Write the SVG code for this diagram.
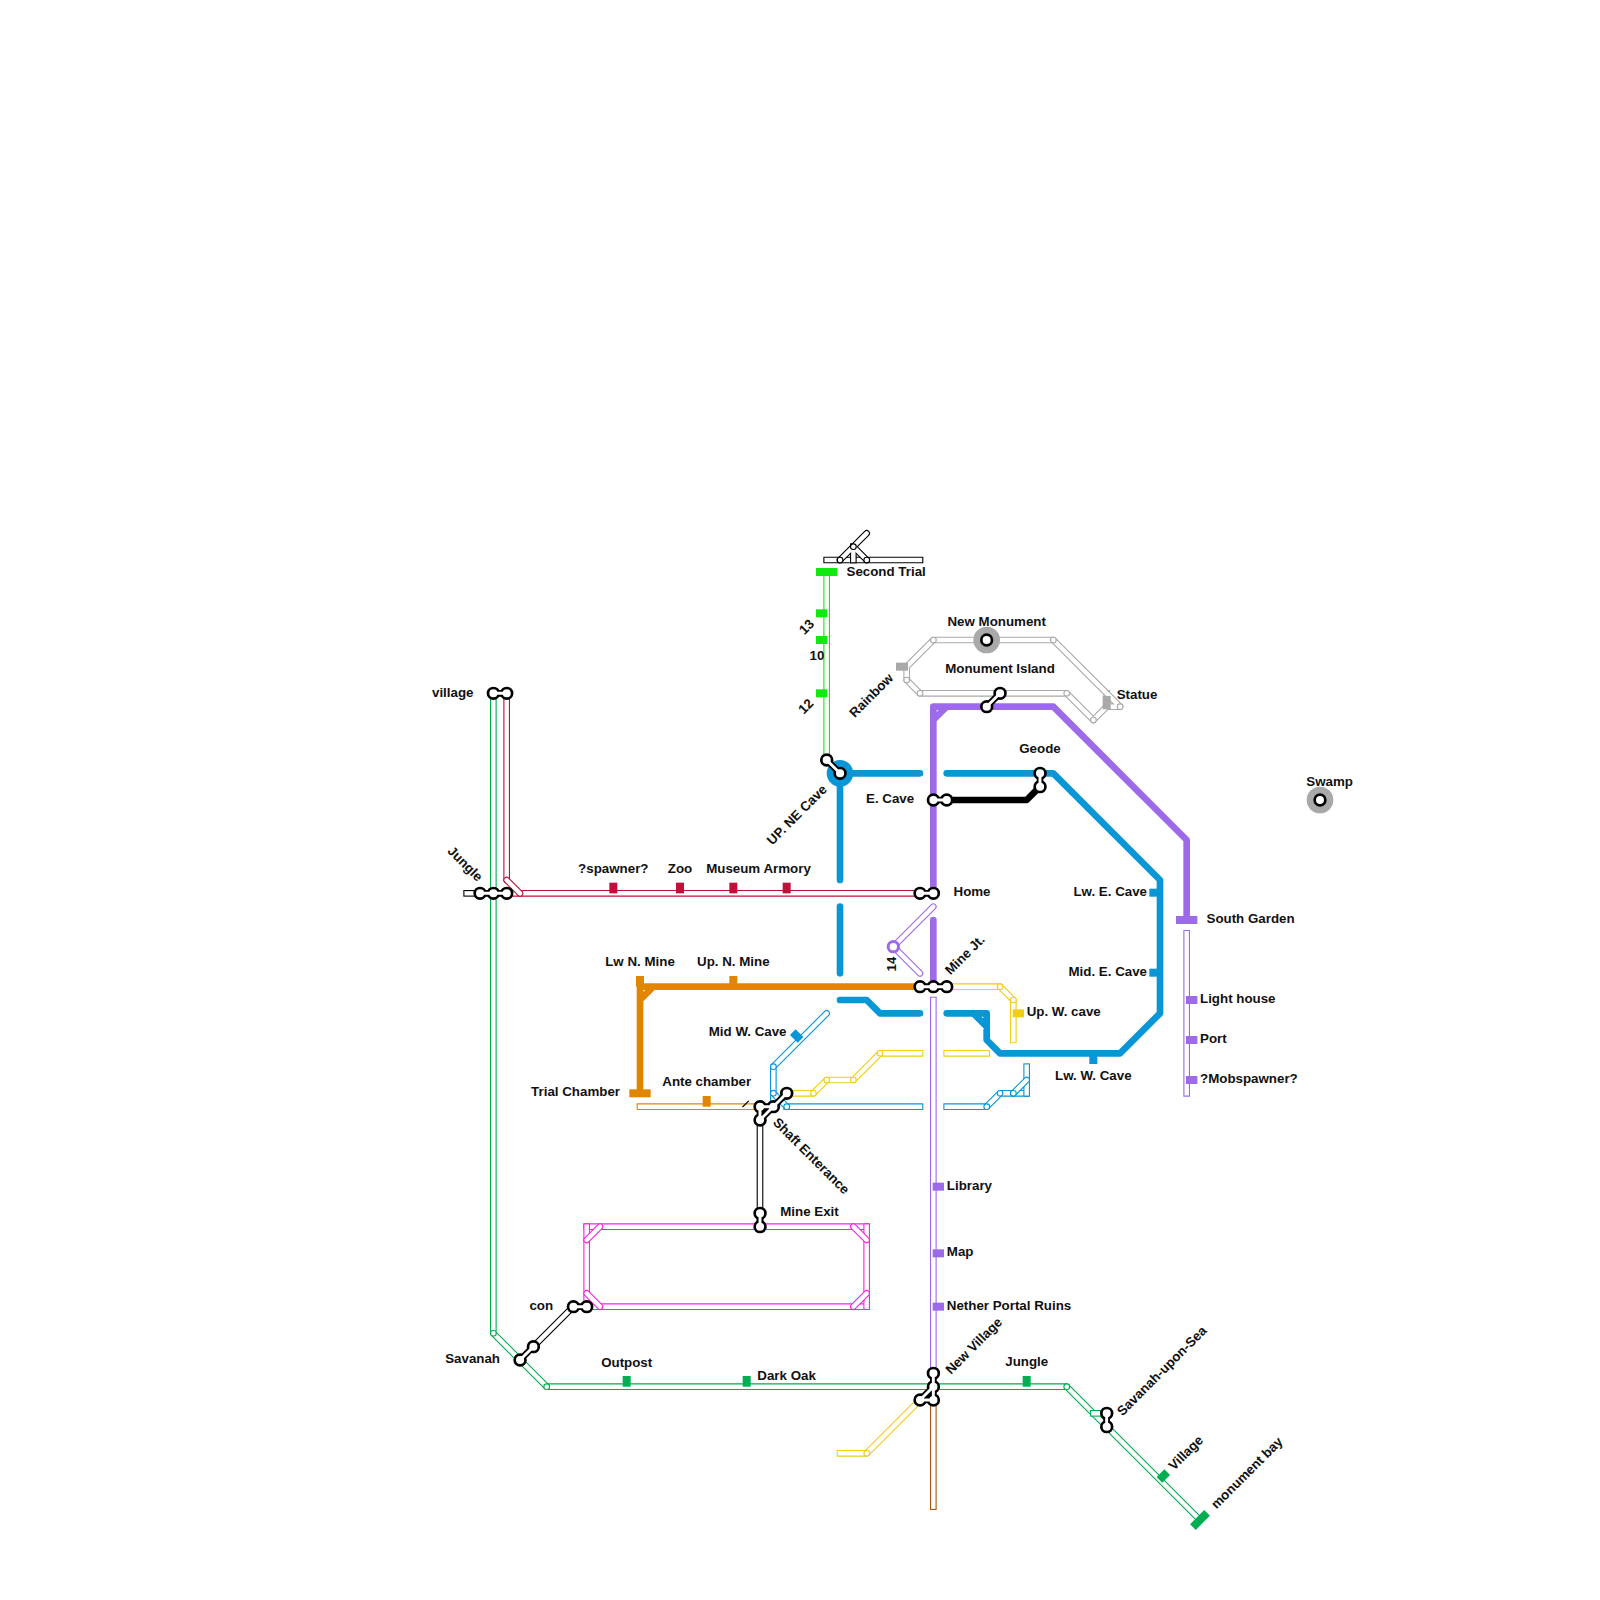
<svg xmlns="http://www.w3.org/2000/svg" width="1600" height="1600" viewBox="0 0 1600 1600">
<style>
text{font:bold 13.33px "Liberation Sans",Arial,sans-serif;fill:#111}
.m{text-anchor:middle}.e{text-anchor:end}
.u{transform:scale(13.33333)}
path{fill:none;stroke-linecap:round;stroke-linejoin:round}
.o{stroke-width:.5}
.w{stroke:#fff;stroke-width:.3333}
.s{stroke-linecap:square}
.t{stroke-width:.5}
.ko{stroke:#000;stroke-width:1}
.kn{stroke:#000;stroke-width:.5}
.kw{stroke:#fff;stroke-width:.6}
.kx{stroke:#fff;stroke-width:.22}
</style>
<defs>
<g id="h2"><path class="ko" d="M0 0h.01M1 0h.01"/><path class="kn" d="M0 0h1"/><path class="kw" d="M0 0h.01M1 0h.01"/><path class="kx" d="M0 0h1"/></g>
<g id="h3"><path class="ko" d="M0 0h.01M1 0h.01M2 0h.01"/><path class="kn" d="M0 0h2"/><path class="kw" d="M0 0h.01M1 0h.01M2 0h.01"/><path class="kx" d="M0 0h2"/></g>
<g id="v2"><path class="ko" d="M0 0h.01M0 1h.01"/><path class="kn" d="M0 0v1"/><path class="kw" d="M0 0h.01M0 1h.01"/><path class="kx" d="M0 0v1"/></g>
<g id="du"><path class="ko" d="M0 0h.01M1 -1h.01"/><path class="kn" d="M0 0l1 -1"/><path class="kw" d="M0 0h.01M1 -1h.01"/><path class="kx" d="M0 0l1 -1"/></g>
<g id="dd"><path class="ko" d="M0 0h.01M1 1h.01"/><path class="kn" d="M0 0l1 1"/><path class="kw" d="M0 0h.01M1 1h.01"/><path class="kx" d="M0 0l1 1"/></g>
</defs>

<g id="connectors" class="u">
 <g id="line-black-top" stroke="#000">
  <path class="o s" d="M62 42H69"/><path class="w s" d="M62 42H69"/>
  <path class="o" d="M65 40L63 42M64 41L65 42"/><path class="o s" d="M64 41V42"/>
  <path class="w" d="M65 40L63 42M64 41L65 42"/><path class="w s" d="M64 41V42"/>
  <path class="o" d="M64 41h.01M63 42h.01M65 42h.01"/><path class="w" d="M64 41h.01M63 42h.01M65 42h.01"/>
 </g>
 <g id="line-bright-green" stroke="#10e810">
  <path class="o s" d="M62 43V57"/><path class="w s" d="M62 43V57"/>
 </g>
 <g id="line-gray" stroke="#a9a9a9">
  <path class="o s" d="M83 52V53"/><path class="w s" d="M83 52V53"/>
  <path class="o" d="M84 53L79 48H70L68 50V51L69 52H80L82 54L83 53M84 53H83"/>
  <path class="w" d="M84 53L79 48H70L68 50V51L69 52H80L82 54L83 53M84 53H83"/>
  <path class="o" d="M70 48h.01M79 48h.01M68 51h.01M69 52h.01M80 52h.01M82 54h.01M84 53h.01"/>
  <path class="w" d="M70 48h.01M79 48h.01M68 51h.01M69 52h.01M80 52h.01M82 54h.01M84 53h.01"/>
 </g>
 <g id="line-green" stroke="#00ad50">
  <path class="o" d="M37 52V100L41 104H80L90 114"/><path class="w" d="M37 52V100L41 104H80L90 114"/>
  <path class="o s" d="M82 106H83"/><path class="w s" d="M82 106H83"/>
  <path class="o" d="M37 100h.01M41 104h.01M80 104h.01"/><path class="w" d="M37 100h.01M41 104h.01M80 104h.01"/>
 </g>
 <g id="line-red" stroke="#c0103a">
  <path class="o" d="M38 67H69M38 52V66"/><path class="w" d="M38 67H69M38 52V66"/>
  <path class="o" d="M38 66L39 67"/><path class="w" d="M38 66L39 67"/>
 </g>
 <g id="line-black-links" stroke="#000">
  <path class="o" d="M40 101L43 98M57 84V92"/><path class="w" d="M40 101L43 98M57 84V92"/>
  <path class="o s" d="M35 67H36"/><path class="w s" d="M35 67H36"/>
 </g>
 <g id="line-magenta" stroke="#ff20e0">
  <path class="o s" d="M44 92H65"/><path class="w s" d="M44 92H65"/>
  <path class="o s" d="M44 98H65"/><path class="w s" d="M44 98H65"/>
  <path class="o s" d="M44 92V98"/><path class="w s" d="M44 92V98"/>
  <path class="o s" d="M65 92V98"/><path class="w s" d="M65 92V98"/>
  <path class="o" d="M45 92L44 93"/><path class="w" d="M45 92L44 93"/>
  <path class="o" d="M64 92L65 93"/><path class="w" d="M64 92L65 93"/>
  <path class="o" d="M44 97L45 98"/><path class="w" d="M44 97L45 98"/>
  <path class="o" d="M65 97L64 98"/><path class="w" d="M65 97L64 98"/>
 </g>
 <g id="line-orange" stroke="#e08600">
  <path class="t" d="M48 74H69M49 74L48 75V82M48 74V75"/>
  <path class="o s" d="M48 83H57"/><path class="w s" d="M48 83H57"/>
 </g>
 <path id="tick-black" d="M55.72 83L56.12 82.6" stroke="#000" stroke-width=".1" class="s"/>
 <g id="line-blue" stroke="#0896d7">
  <path class="t" d="M69 58H63V66M63 68V73M63 75H65L66 76H69M71 58H79L87 66V76L84 79H75L74 78V76H71M73 76L74 77"/>
  <path class="o" d="M62 76L58 80V83"/><path class="w" d="M62 76L58 80V83"/>
  <path class="o s" d="M59 83H69"/><path class="w s" d="M59 83H69"/>
  <path class="o" d="M58 82L59 83"/><path class="w" d="M58 82L59 83"/>
  <path class="o s" d="M71 83H74L75 82H77"/><path class="w s" d="M71 83H74L75 82H77"/>
  <path class="o s" d="M77 80V82"/><path class="w s" d="M77 80V82"/>
  <path class="o" d="M76 82L77 81"/><path class="w" d="M76 82L77 81"/>
  <path class="o" d="M58 80h.01M58 82h.01M59 83h.01M74 83h.01M75 82h.01M76 82h.01"/>
  <path class="w" d="M58 80h.01M58 82h.01M59 83h.01M74 83h.01M75 82h.01M76 82h.01"/>
 </g>
 <g id="line-yellow" stroke="#f2cd13">
  <path class="o s" d="M59 82H61L62 81H64L66 79H69"/><path class="w s" d="M59 82H61L62 81H64L66 79H69"/>
  <path class="o s" d="M71 79H74"/><path class="w s" d="M71 79H74"/>
  <path class="o s" d="M71 74H75L76 75V78"/><path class="w s" d="M71 74H75L76 75V78"/>
  <path class="o s" d="M63 109H65L69 105"/><path class="w s" d="M63 109H65L69 105"/>
  <path class="o" d="M61 82h.01M62 81h.01M64 81h.01M66 79h.01M75 74h.01M76 75h.01M65 109h.01"/>
  <path class="w" d="M61 82h.01M62 81h.01M64 81h.01M66 79h.01M75 74h.01M76 75h.01M65 109h.01"/>
 </g>
 <g id="line-brown" stroke="#a8560f">
  <path class="o s" d="M70 105V113"/><path class="w s" d="M70 105V113"/>
 </g>
 <g id="line-purple" stroke="#9d6bea">
  <path class="t" d="M70 67V53H79L89 63V69M71 53L70 54M70 69V74"/>
  <path class="o s" d="M70 75V103"/><path class="w s" d="M70 75V103"/>
  <path class="o s" d="M89 70V82"/><path class="w s" d="M89 70V82"/>
  <path class="o" d="M70 68L67 71L69 73"/><path class="w" d="M70 68L67 71L69 73"/>
 </g>
 <g id="line-black-thick" stroke="#000"><path class="t" d="M71 60H77L78 59"/></g>
</g>

<g id="n-second-trial"><rect x="816" y="568" width="21.33" height="8" fill="#10e810"/><text x="846.5" y="575.5">Second Trial</text></g>
<g id="n-13"><rect x="816" y="609.33" width="11.33" height="8" fill="#10e810"/><text class="m" transform="translate(809.7 630) rotate(-45)">13</text></g>
<g id="n-10"><rect x="816" y="636" width="11.33" height="8" fill="#10e810"/><text class="m" x="817" y="660">10</text></g>
<g id="n-12"><rect x="816" y="689.33" width="11.33" height="8" fill="#10e810"/><text class="m" transform="translate(809 709.5) rotate(-45)">12</text></g>
<g id="n-rainbow"><rect x="896" y="662.67" width="12" height="8" fill="#a9a9a9"/><text class="m" transform="translate(874.5 698.5) rotate(-45)">Rainbow</text></g>
<g id="n-statue"><rect x="1102.67" y="696" width="8" height="13.33" fill="#a9a9a9"/><text x="1116.7" y="698.5">Statue</text></g>
<g id="n-new-monument"><circle cx="986.67" cy="640" r="13.33" fill="#a9a9a9"/><circle cx="986.67" cy="640" r="5.33" fill="#fff" stroke="#000" stroke-width="2.67"/><text class="m" x="996.7" y="626">New Monument</text></g>
<g id="n-swamp"><circle cx="1320" cy="800" r="13.33" fill="#a9a9a9"/><circle cx="1320" cy="800" r="5.33" fill="#fff" stroke="#000" stroke-width="2.67"/><text class="m" x="1329.6" y="786">Swamp</text></g>
<g id="n-monument-island"><use class="u" href="#du" x="74" y="53"/><text class="m" x="1000" y="673">Monument Island</text></g>
<g id="n-geode"><use class="u" href="#v2" x="78" y="58"/><text class="m" x="1040" y="753">Geode</text></g>
<g id="n-e-cave"><use class="u" href="#h2" x="70" y="60"/><text x="866" y="803">E. Cave</text></g>
<g id="n-up-ne-cave"><circle cx="840" cy="773.33" r="13.33" fill="#0896d7"/><use class="u" href="#dd" x="62" y="57"/><text class="m" transform="translate(800 818) rotate(-45)">UP. NE Cave</text></g>
<g id="n-village"><use class="u" href="#h2" x="37" y="52"/><text class="e" x="473.5" y="697">village</text></g>
<g id="n-jungle-w"><use class="u" href="#h3" x="36" y="67"/><text class="m" transform="translate(462 867) rotate(45)">Jungle</text></g>
<g id="n-spawner"><rect x="609.33" y="882.67" width="8" height="10.67" fill="#c0103a"/><text class="m" x="613.3" y="873">?spawner?</text></g>
<g id="n-zoo"><rect x="676" y="882.67" width="8" height="10.67" fill="#c0103a"/><text class="m" x="680" y="873">Zoo</text></g>
<g id="n-museum"><rect x="729.33" y="882.67" width="8" height="10.67" fill="#c0103a"/></g>
<g id="n-armory"><rect x="782.67" y="882.67" width="8" height="10.67" fill="#c0103a"/><text class="m" x="758.5" y="873">Museum Armory</text></g>
<g id="n-home"><use class="u" href="#h2" x="69" y="67"/><text x="953.5" y="896">Home</text></g>
<g id="n-lw-e-cave"><rect x="1149.33" y="888.67" width="10.67" height="8" fill="#0896d7"/><text class="e" x="1147" y="896">Lw. E. Cave</text></g>
<g id="n-mid-e-cave"><rect x="1149.33" y="968.67" width="10.67" height="8" fill="#0896d7"/><text class="e" x="1147" y="976">Mid. E. Cave</text></g>
<g id="n-lw-w-cave"><rect x="1089.33" y="1053.33" width="8" height="10.67" fill="#0896d7"/><text class="m" x="1093.3" y="1080">Lw. W. Cave</text></g>
<g id="n-mid-w-cave"><rect x="-4" y="-5.5" width="8" height="11" fill="#0896d7" transform="translate(796.67 1036) rotate(-45)"/><text class="e" x="786.5" y="1036">Mid W. Cave</text></g>
<g id="n-south-garden"><rect x="1176" y="916" width="21.33" height="8" fill="#9d6bea"/><text x="1206.5" y="922.5">South Garden</text></g>
<g id="n-light-house"><rect x="1186" y="996" width="11.33" height="8" fill="#9d6bea"/><text x="1200" y="1003">Light house</text></g>
<g id="n-port"><rect x="1186" y="1036" width="11.33" height="8" fill="#9d6bea"/><text x="1200" y="1043">Port</text></g>
<g id="n-mobspawner"><rect x="1186" y="1076" width="11.33" height="8" fill="#9d6bea"/><text x="1200" y="1083">?Mobspawner?</text></g>
<g id="n-14"><circle cx="893.33" cy="946.67" r="5.2" fill="#fff" stroke="#9d6bea" stroke-width="3"/><text class="m" transform="translate(896 964) rotate(-90)">14</text></g>
<g id="n-lw-n-mine"><rect x="636" y="976" width="8" height="10.67" fill="#e08600"/><text class="m" x="640" y="966">Lw N. Mine</text></g>
<g id="n-up-n-mine"><rect x="729.33" y="976" width="8" height="10.67" fill="#e08600"/><text class="m" x="733.3" y="966">Up. N. Mine</text></g>
<g id="n-mine-jt"><use class="u" href="#h3" x="69" y="74"/><text class="m" transform="translate(968 958) rotate(-45)">Mine Jt.</text></g>
<g id="n-up-w-cave"><rect x="1012.67" y="1009.33" width="11.33" height="8" fill="#f2cd13"/><text x="1026.7" y="1016">Up. W. cave</text></g>
<g id="n-trial-chamber"><rect x="629.33" y="1089.33" width="21.33" height="8" fill="#e08600"/><text class="e" x="620" y="1096">Trial Chamber</text></g>
<g id="n-ante-chamber"><rect x="702.67" y="1096" width="8" height="10.67" fill="#e08600"/><text class="m" x="706.7" y="1086">Ante chamber</text></g>
<g id="n-shaft"><path class="u ko" d="M57 83h.01M57 84h.01M58 83h.01M59 82h.01"/><path class="u kn" d="M57 83V84L59 82M57 83H58"/><path class="u kw" d="M57 83h.01M57 84h.01M58 83h.01M59 82h.01"/><path class="u kx" d="M57 83V84L59 82M57 83H58"/><text class="m" transform="translate(808 1159) rotate(45)">Shaft Enterance</text></g>
<g id="n-mine-exit"><use class="u" href="#v2" x="57" y="91"/><text class="m" x="809.5" y="1216">Mine Exit</text></g>
<g id="n-library"><rect x="932.67" y="1182.67" width="11.33" height="8" fill="#9d6bea"/><text x="946.8" y="1190">Library</text></g>
<g id="n-map"><rect x="932.67" y="1249.33" width="11.33" height="8" fill="#9d6bea"/><text x="946.8" y="1256">Map</text></g>
<g id="n-nether"><rect x="932.67" y="1302.67" width="11.33" height="8" fill="#9d6bea"/><text x="946.8" y="1310">Nether Portal Ruins</text></g>
<g id="n-new-village"><path class="u ko" d="M70 103h.01M70 104h.01M70 105h.01M69 105h.01"/><path class="u kn" d="M70 103V105H69M70 104L69 105"/><path class="u kw" d="M70 103h.01M70 104h.01M70 105h.01M69 105h.01"/><path class="u kx" d="M70 103V105H69M70 104L69 105"/><text class="m" transform="translate(977 1349) rotate(-45)">New Village</text></g>
<g id="n-jungle-e"><rect x="1022.67" y="1376" width="8" height="10.67" fill="#00ad50"/><text class="m" x="1026.7" y="1366">Jungle</text></g>
<g id="n-outpost"><rect x="622.67" y="1376" width="8" height="10.67" fill="#00ad50"/><text class="m" x="626.7" y="1367">Outpost</text></g>
<g id="n-dark-oak"><rect x="742.67" y="1376" width="8" height="10.67" fill="#00ad50"/><text x="757.3" y="1380">Dark Oak</text></g>
<g id="n-savanah-sea"><use class="u" href="#v2" x="83" y="106"/><text class="m" transform="translate(1165 1374) rotate(-45)">Savanah-upon-Sea</text></g>
<g id="n-village-e"><rect x="-4" y="-5.5" width="8" height="11" fill="#00ad50" transform="translate(1163.33 1476) rotate(45)"/><text class="m" transform="translate(1189 1456) rotate(-45)">Village</text></g>
<g id="n-monument-bay"><rect x="-4" y="-10" width="8" height="20" fill="#00ad50" transform="translate(1200 1520) rotate(45)"/><text class="m" transform="translate(1250 1476) rotate(-45)">monument bay</text></g>
<g id="n-con"><use class="u" href="#h2" x="43" y="98"/><text class="m" x="541.3" y="1310">con</text></g>
<g id="n-savanah"><use class="u" href="#du" x="39" y="102"/><text class="e" x="500" y="1363">Savanah</text></g>
</svg>
